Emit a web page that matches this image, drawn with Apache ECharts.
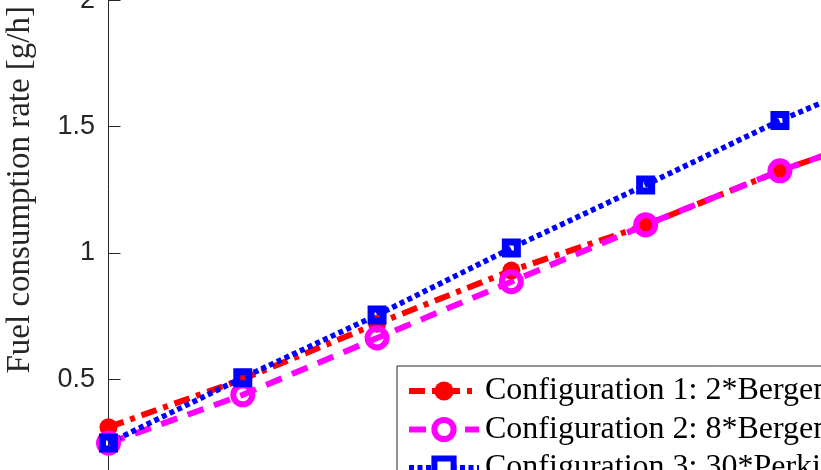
<!DOCTYPE html>
<html>
<head>
<meta charset="utf-8">
<script src="https://cdn.jsdelivr.net/npm/echarts@6/dist/echarts.min.js"></script>
<style>
  html, body { margin: 0; padding: 0; width: 821px; height: 470px; overflow: hidden; background: #fff; }
  #chart { position: absolute; left: 0; top: -146px; width: 1100px; height: 712px; }
</style>
</head>
<body>
<div id="chart"></div>
<script>
// ---- data ----
const xValues = [1, 2, 3, 4, 5, 6, 7];
const config1 = [0.31, 0.50, 0.72, 0.93, 1.11, 1.325, 1.51];
const config2 = [0.247, 0.438, 0.663, 0.886, 1.111, 1.325, 1.51];
const config3 = [0.247, 0.506, 0.754, 1.019, 1.269, 1.524, 1.75];
const seriesNames = [
  'Configuration 1: 2*Bergen B33:45L9A',
  'Configuration 2: 8*Bergen C25:33L6A',
  'Configuration 3: 30*Perkins 2806'
];
const yTicks = [0, 0.5, 1, 1.5, 2, 2.5];
const yLabel = 'Fuel consumption rate [g/h]';

const pairs = arr => xValues.map((x, i) => [x, arr[i]]);

const chart = echarts.init(document.getElementById('chart'), null, { renderer: 'canvas' });
const axisColor = '#262626';
chart.setOption({
  animation: false,
  backgroundColor: '#fff',
  grid: { left: 108.5, top: 20, width: 940, height: 631.5, containLabel: false, outerBoundsMode: 'none' },
  xAxis: {
    type: 'value', min: 1, max: 8, interval: 1,
    axisLine: { show: true, lineStyle: { color: axisColor, width: 1 } },
    axisTick: { inside: true, length: 12, lineStyle: { color: axisColor } },
    axisLabel: { show: false },
    splitLine: { show: false }
  },
  yAxis: {
    type: 'value', min: yTicks[0], max: yTicks[yTicks.length - 1], interval: 0.5,
    axisLine: { show: true, lineStyle: { color: axisColor, width: 1 } },
    axisTick: { show: true, inside: true, length: 12, lineStyle: { color: axisColor } },
    axisLabel: {
      margin: 13.5, color: axisColor, fontSize: 27, fontFamily: 'Liberation Sans',
      padding: [4, 0, 0, 0],
      formatter: v => String(v)
    },
    splitLine: { show: false },
    name: yLabel,
    nameLocation: 'middle',
    nameGap: 72,
    nameTextStyle: { fontFamily: 'Liberation Serif', fontSize: 33, color: axisColor }
  },
  legend: {
    orient: 'vertical',
    left: 397, top: 512,
    backgroundColor: '#fff',
    borderColor: axisColor, borderWidth: 1, borderRadius: 0,
    padding: [9, 40, 10, 9],
    itemWidth: 70, itemHeight: 24, itemGap: 6.5,
    lineStyle: { width: 6 },
    textStyle: { fontFamily: 'Liberation Serif', fontSize: 32, color: '#000', lineHeight: 30, padding: [0, 0, 0, 1] },
    data: [
      { name: seriesNames[0], itemStyle: { borderWidth: 0 } },
      { name: seriesNames[1], itemStyle: { borderWidth: 6, borderColor: '#ff00ff', color: '#fff' } },
      { name: seriesNames[2], itemStyle: { borderWidth: 6, borderColor: '#0000ff', color: '#fff' } }
    ]
  },
  series: [
    {
      name: seriesNames[0], type: 'line', data: pairs(config1),
      symbol: 'circle', symbolSize: 18, showSymbol: true,
      lineStyle: { color: '#ff0000', width: 6, type: [16, 7, 5, 7], cap: 'butt' },
      itemStyle: { color: '#ff0000', borderWidth: 0 }
    },
    {
      name: seriesNames[1], type: 'line', data: pairs(config2),
      symbol: 'circle', symbolSize: 19, showSymbol: true,
      lineStyle: { color: '#ff00ff', width: 6, type: [17, 11], cap: 'butt' },
      itemStyle: { color: 'rgba(255,255,255,0)', borderColor: '#ff00ff', borderWidth: 6 }
    },
    {
      name: seriesNames[2], type: 'line', data: pairs(config3),
      symbol: 'rect', symbolSize: 12, showSymbol: true,
      lineStyle: { color: '#0000ff', width: 5.5, type: [5, 3.5], cap: 'butt' },
      itemStyle: { color: 'rgba(255,255,255,0)', borderColor: '#0000ff', borderWidth: 7 }
    }
  ]
});
</script>
</body>
</html>
